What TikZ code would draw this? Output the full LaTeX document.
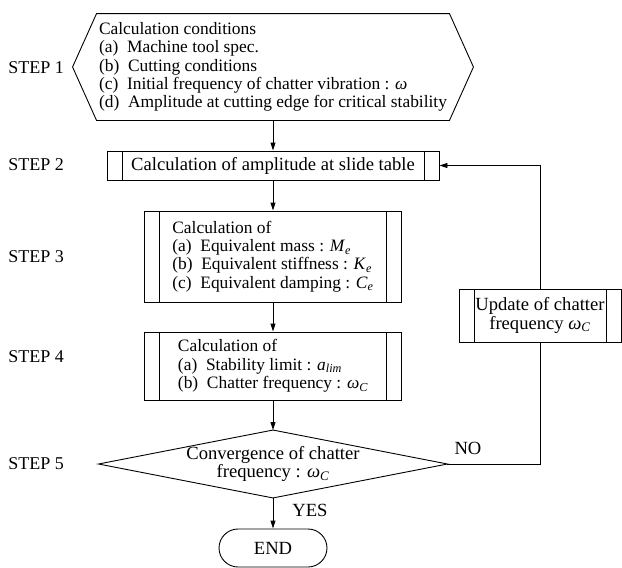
\documentclass[tikz,border=0pt]{standalone}
\usepackage{fontspec}
\setmainfont{Liberation Serif}
\usetikzlibrary{arrows.meta}
\newcommand\idx[1]{\textsubscript{\itshape #1}}
\newcommand\itemgap{\hspace{0.5em}}

\begin{document}
\begin{tikzpicture}[x=1pt,y=-1pt,line width=0.9pt,font=\fontsize{18.6}{18.4}\selectfont]
\useasboundingbox (0,0) rectangle (622,568);
   \tikzset{procbox/.style = {draw, rectangle, inner sep=0pt,
      path picture={\draw ([xshift=15pt]path picture bounding box.north west) -- ([xshift=15pt]path picture bounding box.south west)
         ([xshift=-15pt]path picture bounding box.north east) -- ([xshift=-15pt]path picture bounding box.south east);}}}
   \tikzset{arr/.style = {-{Triangle[length=8pt,width=5pt]}}}
   \tikzset{steplabel/.style = {anchor=west, inner sep=0pt, font=\fontsize{18}{18.4}\selectfont}}
   \tikzset{listtext/.style = {align=left, font=\fontsize{17.4}{18.4}\selectfont}}

   \node[steplabel] (s1) at (8,68) {STEP 1};
   \node[steplabel] (s2) at (8,165) {STEP 2};
   \node[steplabel] (s3) at (8,257) {STEP 3};
   \node[steplabel] (s4) at (8,357) {STEP 4};
   \node[steplabel] (s5) at (8,464) {STEP 5};

   \node[listtext, minimum width=352pt, minimum height=106pt, inner sep=0pt] (cond) at (273,67)
      {Calculation conditions\\
       (a)\itemgap Machine tool spec.\\
       (b)\itemgap Cutting conditions\\
       (c)\itemgap Initial frequency of chatter vibration : {\itshape ω}\\
       (d)\itemgap Amplitude at cutting edge for critical stability};
   \draw (cond.north west) -- (cond.north east) -- ([xshift=24pt]cond.east) -- (cond.south east)
      -- (cond.south west) -- ([xshift=-24pt]cond.west) -- cycle;

   \node[procbox, minimum width=332pt, minimum height=29pt] (amp) at (273,165.5)
      {Calculation of amplitude at slide table};
   \node[procbox, listtext, minimum width=257pt, minimum height=91pt] (equiv) at (273,256.5)
      {Calculation of\\
       (a)\itemgap Equivalent mass : \textit{M}\idx{e}\\
       (b)\itemgap Equivalent stiffness : \textit{K}\idx{e}\\
       (c)\itemgap Equivalent damping : \textit{C}\idx{e}};
   \node[procbox, listtext, minimum width=257pt, minimum height=68pt] (limit) at (273,366)
      {Calculation of\\
       (a)\itemgap Stability limit : \textit{a}\idx{lim}\\
       (b)\itemgap Chatter frequency : {\itshape ω}\idx{C}};

   \node[minimum width=348pt, minimum height=67pt, align=center, inner sep=0pt] (conv) at (273,464)
      {Convergence of chatter\\ frequency : {\itshape ω}\idx{C}};
   \draw (conv.north) -- (conv.east) -- (conv.south) -- (conv.west) -- cycle;

   \node[draw, rounded corners=19pt, minimum width=108pt, minimum height=38pt] (stop) at (273,548) {END};

   \node[procbox, minimum width=162pt, minimum height=53pt, align=center] (upd) at (540,315.5)
      {Update of chatter\\ frequency {\itshape ω}\idx{C}};

   \draw[arr] (cond.south) -- (amp.north);
   \draw[arr] (amp.south) -- (equiv.north);
   \draw[arr] (equiv.south) -- (limit.north);
   \draw[arr] (limit.south) -- (conv.north);
   \draw[arr] (conv.south) -- (stop.north);
   \draw (conv.east) -| (upd.south);
   \draw[arr] (upd.north) |- (amp.east);

   \node (yes) at (310,510) {YES};
   \node (no) at (468,448) {NO};
\end{tikzpicture}
\end{document}
